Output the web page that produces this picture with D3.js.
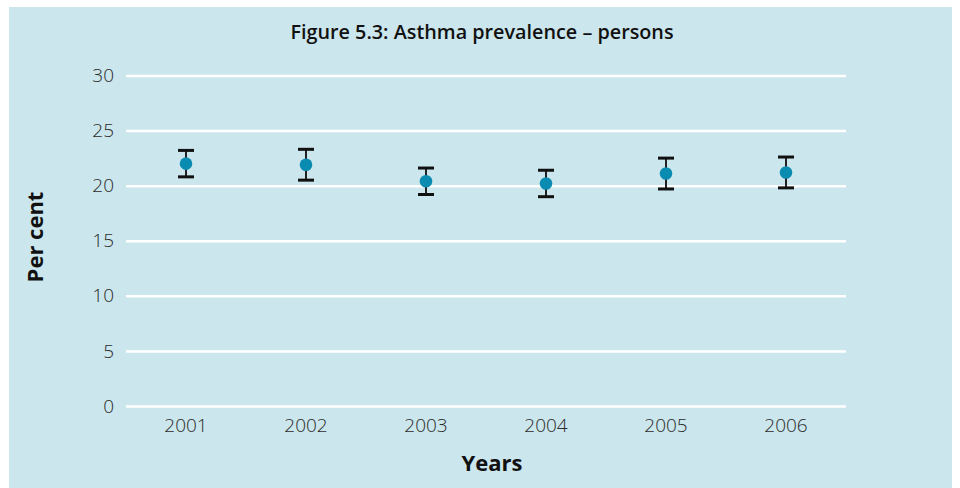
<!DOCTYPE html>
<html><head><meta charset="utf-8">
<script src="https://cdn.jsdelivr.net/npm/d3@7"></script>
<style>
html,body{margin:0;padding:0;background:#fff;}
svg{display:block;}
</style></head>
<body>
<svg id="chart" width="960" height="488"></svg>
<script>
const years = ["2001","2002","2003","2004","2005","2006"];
const values = [22.0, 21.9, 20.4, 20.2, 21.1, 21.2];
const upper = [23.2, 23.3, 21.6, 21.4, 22.5, 22.6];
const lower = [20.8, 20.5, 19.2, 19.0, 19.7, 19.8];
const yTicks = [0, 5, 10, 15, 20, 25, 30];

const data = years.map((y, i) => ({year: y, v: values[i], hi: upper[i], lo: lower[i]}));
const FONT = "'Open Sans', sans-serif";

const svg = d3.select("#chart");
svg.append("rect").attr("x", 9).attr("y", 7).attr("width", 943).attr("height", 481).attr("fill", "#cbe6ec");

const x = d3.scaleBand().domain(years).range([126, 846]).padding(0);
const y = d3.scaleLinear().domain([0, 30]).range([406, 75.5]);

// grid
const yAxis = d3.axisLeft(y).tickValues(yTicks).tickSize(-(846 - 126)).tickPadding(12);
const gy = svg.append("g").attr("transform", "translate(126,0)").call(yAxis);
gy.select(".domain").remove();
gy.selectAll(".tick line").attr("stroke", "#fff").attr("stroke-width", 2.5);
gy.selectAll(".tick text").attr("fill", "#2a2a2a").attr("font-family", FONT)
  .attr("font-weight", 300).attr("font-size", 19);

const xAxis = d3.axisBottom(x).tickSize(0).tickPadding(11);
const gx = svg.append("g").attr("transform", "translate(0,408)").call(xAxis);
gx.select(".domain").remove();
gx.selectAll(".tick text").attr("fill", "#2a2a2a").attr("font-family", FONT)
  .attr("font-weight", 300).attr("font-size", 19);

// error bars
const g = svg.append("g");
const cx = d => x(d.year) + x.bandwidth() / 2;
g.selectAll("line.stem").data(data).join("line").attr("class", "stem")
  .attr("x1", cx).attr("x2", cx).attr("y1", d => y(d.hi)).attr("y2", d => y(d.lo))
  .attr("stroke", "#222").attr("stroke-width", 2);
g.selectAll("line.capT").data(data).join("line").attr("class", "capT")
  .attr("x1", d => cx(d) - 8).attr("x2", d => cx(d) + 8).attr("y1", d => y(d.hi)).attr("y2", d => y(d.hi))
  .attr("stroke", "#111").attr("stroke-width", 3);
g.selectAll("line.capB").data(data).join("line").attr("class", "capB")
  .attr("x1", d => cx(d) - 8).attr("x2", d => cx(d) + 8).attr("y1", d => y(d.lo)).attr("y2", d => y(d.lo))
  .attr("stroke", "#111").attr("stroke-width", 3);
g.selectAll("circle").data(data).join("circle")
  .attr("cx", cx).attr("cy", d => y(d.v)).attr("r", 6.3).attr("fill", "#0a8bb1");

// titles
svg.append("text").attr("x", 482).attr("y", 39).attr("text-anchor", "middle")
  .attr("font-family", FONT).attr("font-weight", 600).attr("font-size", 19.8).attr("fill", "#111")
  .text("Figure 5.3: Asthma prevalence – persons");
svg.append("text").attr("x", 492).attr("y", 471).attr("text-anchor", "middle")
  .attr("font-family", FONT).attr("font-weight", 700).attr("font-size", 22).attr("fill", "#111")
  .text("Years");
svg.append("text").attr("transform", "translate(43,237) rotate(-90)").attr("text-anchor", "middle")
  .attr("font-family", FONT).attr("font-weight", 700).attr("font-size", 22).attr("fill", "#111")
  .text("Per cent");
</script>
</body></html>
